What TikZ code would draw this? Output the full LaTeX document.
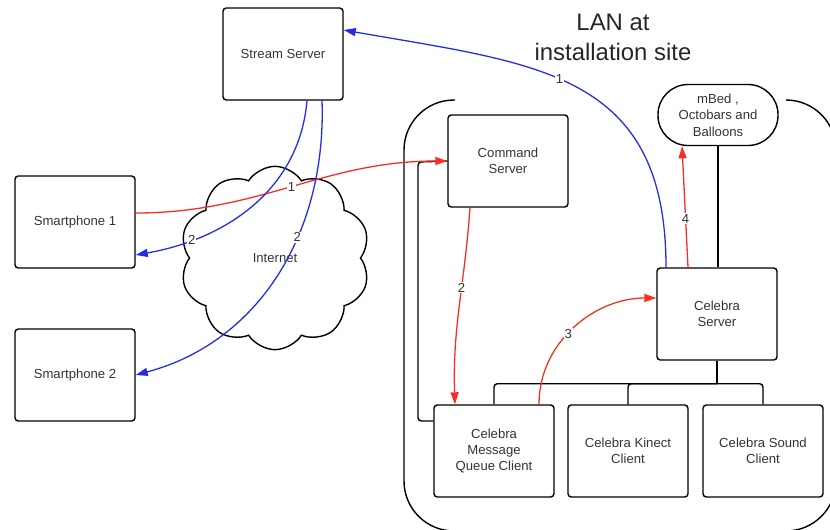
\documentclass[tikz,border=0pt]{standalone}
\usepackage{fontspec}
\setmainfont{Liberation Sans}
\usetikzlibrary{arrows.meta,calc,shapes.symbols}
\definecolor{msgred}{RGB}{250,45,35}
\definecolor{msgblue}{RGB}{35,45,230}
\tikzset{
  box/.style={draw, line width=1.2pt, rounded corners=1mm, minimum width=36mm, minimum height=27.6mm,
    align=center, font=\fontsize{11.2}{14}\selectfont, text=black!80},
  wire/.style={line width=1.2pt, rounded corners=1mm},
  redmsg/.style={msgred, line width=1.1pt, -{Triangle[length=3.6mm,width=2.4mm]}},
  bluemsg/.style={msgblue, line width=1.1pt, -{Triangle[length=3.6mm,width=2.4mm]}},
  num/.style={fill=white, inner sep=0.8pt, text=black!80, font=\fontsize{11.2}{13}\selectfont},
}

\begin{document}
\begin{tikzpicture}[x=0.3mm,y=-0.3mm]
			%%%%% START %%%%%
			\useasboundingbox (0,0) rectangle (830,529);
			
			% LAN region
			\draw[line width=1.2pt, rounded corners=15mm] (455,100) -- (404,100) -- (404,531) -- (455,531);
			\draw[line width=1.2pt, rounded corners=15mm] (786,100) -- (836,100) -- (836,531) -- (786,531);
			\node[align=center, text=black!85, font=\fontsize{20.4}{25.5}\selectfont] (lan) at (613,37) {LAN at\\installation site};
			
			% outside
			\node[box] (stream) at (283,54) {Stream Server};
			\node[box] (sp1) at (75,222) {Smartphone 1};
			\node[box] (sp2) at (75,375) {Smartphone 2};
			\node[draw, line width=1.2pt, cloud, cloud puffs=10, cloud puff arc=115, aspect=1,
			      minimum width=57mm, minimum height=55mm, text=black!80,
			      font=\fontsize{11.2}{14}\selectfont] (inet) at (275,258) {Internet};
			
			% inside
			\node[box] (cmd) at (508,161) {Command\\Server};
			\node[box, rounded corners=9mm, minimum height=18.3mm] (mbed) at (718,115) {mBed ,\\Octobars and\\Balloons};
			\node[box] (celsrv) at (717,314) {Celebra\\Server};
			\node[box] (mqc) at (494,451) {Celebra\\Message\\Queue Client};
			\node[box] (kin) at (628,451) {Celebra Kinect\\Client};
			\node[box] (snd) at (763,451) {Celebra Sound\\Client};
			
			% wiring
			\draw[line width=1.2pt] (mbed.south) -- (mbed.south |- celsrv.north);
			\coordinate (bus) at ($(celsrv.south)+(0,23)$);
			\draw[line width=1.2pt] (celsrv.south) -- (bus);
			\draw[wire] (bus) -| (mqc.north);
			\draw[wire] (bus) -| (kin.north);
			\draw[wire] (bus) -| (snd.north);
			\draw[wire] (cmd.west) -- (418,162) -- (418,421) -- (mqc.west |- 0,421);
			
			% messages
			\draw[redmsg] ($(sp1.east)+(0,-9)$) to[out=0,in=180] node[num,pos=0.5] {1} (cmd.west);
			\draw[redmsg] ($(cmd.south)+(-38,0)$) to[out=-94,in=92] node[num,pos=0.4] {2} ($(mqc.north)+(-39,0)$);
			\draw[redmsg] ($(mqc.north)+(45,0)$) to[out=90,in=180] node[num,pos=0.45] {3} ($(celsrv.west)+(0,-16)$);
			\draw[redmsg] ($(celsrv.north)+(-29,0)$) -- node[num,pos=0.4] {4} ($(mbed.south)+(-36,0)$);
			
			\draw[bluemsg] ($(celsrv.north)+(-51,0)$) to[out=90,in=-10,looseness=1.25] node[num,pos=0.55] {1} ($(stream.east)+(0,-24)$);
			\draw[bluemsg] ($(stream.south)+(24,0)$) to[out=-95,in=10] node[num,pos=0.78] {2} ($(sp1.east)+(0,33)$);
			\draw[bluemsg] ($(stream.south)+(39,0)$) to[out=-88,in=15] node[num,pos=0.38] {2} (sp2.east);
			
			%%%%% END %%%%%
\end{tikzpicture}
\end{document}
